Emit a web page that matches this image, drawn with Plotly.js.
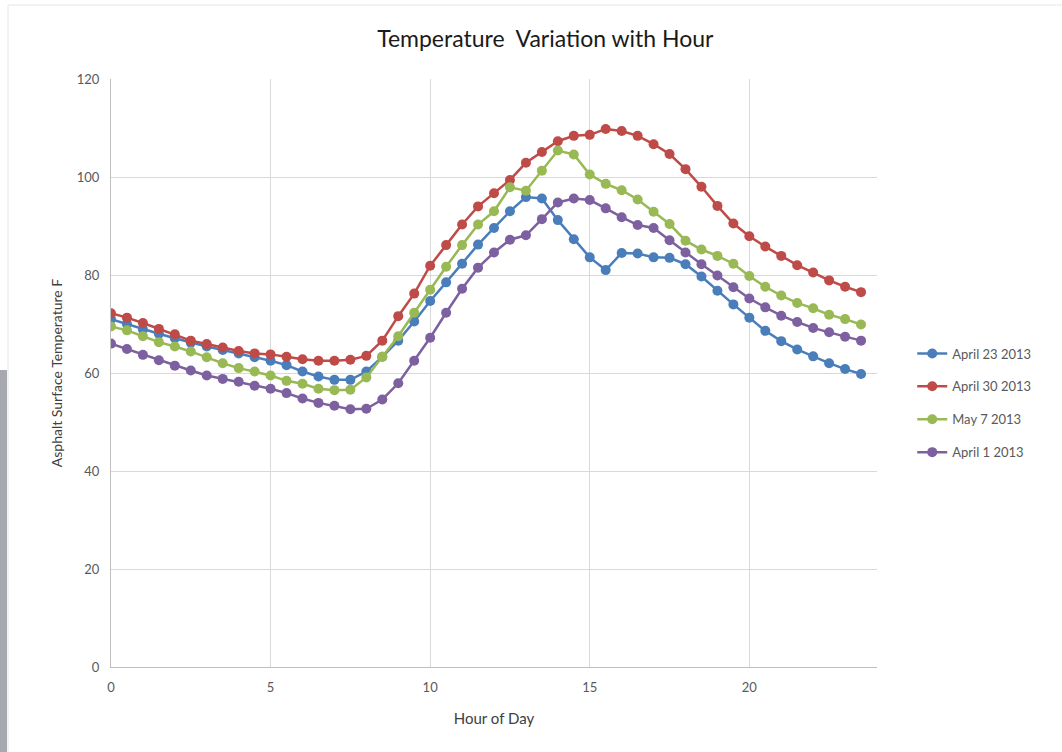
<!DOCTYPE html>
<html>
<head>
<meta charset="utf-8">
<script src="https://cdn.plot.ly/plotly-3.0.1.min.js"></script>
<style>
html,body{margin:0;padding:0;background:#fff;}
#chart{width:1062px;height:752px;}
</style>
</head>
<body>
<div id="chart"></div>
<script>
const hours = [0,0.5,1,1.5,2,2.5,3,3.5,4,4.5,5,5.5,6,6.5,7,7.5,8,8.5,9,9.5,10,10.5,11,11.5,12,12.5,13,13.5,14,14.5,15,15.5,16,16.5,17,17.5,18,18.5,19,19.5,20,20.5,21,21.5,22,22.5,23,23.5];

const april23 = [71.0,70.0,68.9,68.0,67.1,66.2,65.4,64.7,64.0,63.2,62.5,61.6,60.3,59.3,58.6,58.6,60.3,63.3,66.6,70.5,74.7,78.5,82.3,86.2,89.6,93.0,95.9,95.6,91.2,87.3,83.6,81.0,84.5,84.4,83.6,83.5,82.2,79.7,76.8,74.0,71.3,68.6,66.5,64.8,63.4,62.0,60.8,59.8];

const april30 = [72.2,71.3,70.2,69.0,67.9,66.6,65.9,65.2,64.5,64.0,63.8,63.3,62.8,62.5,62.5,62.7,63.5,66.6,71.6,76.2,81.9,86.1,90.3,94.0,96.7,99.4,102.9,105.1,107.3,108.4,108.6,109.8,109.4,108.4,106.7,104.7,101.6,98.0,94.1,90.5,87.9,85.8,83.9,82.0,80.5,78.9,77.6,76.5];

const may7 = [69.5,68.7,67.5,66.3,65.4,64.4,63.2,62.0,61.0,60.3,59.5,58.4,57.8,56.8,56.5,56.6,59.1,63.3,67.5,72.3,77.0,81.7,86.1,90.3,93.0,97.9,97.2,101.3,105.4,104.6,100.5,98.6,97.3,95.4,92.9,90.4,87.0,85.2,83.9,82.3,79.8,77.6,75.8,74.3,73.2,71.9,71.0,69.9];

const april1 = [66.0,64.9,63.7,62.6,61.5,60.5,59.5,58.8,58.2,57.4,56.8,55.9,54.8,53.9,53.3,52.6,52.7,54.6,57.9,62.5,67.2,72.3,77.2,81.5,84.6,87.2,88.1,91.4,94.8,95.6,95.3,93.6,91.8,90.2,89.6,87.1,84.6,82.2,79.9,77.5,75.2,73.4,71.7,70.4,69.2,68.3,67.4,66.6];

const seriesNames = ["April 23 2013","April 30 2013","May 7 2013","April 1 2013"];
const seriesData = [april23, april30, may7, april1];
const seriesColors = ["#4A7EBB","#BE4B48","#98B954","#7D60A0"];

const xTicks = [0,5,10,15,20];
const yTicks = [0,20,40,60,80,100,120];

const traces = seriesData.map((d,i)=>({
  x: hours, y: d, name: seriesNames[i], type:'scatter', mode:'lines+markers',
  legendgroup: 'g'+i,
  line:{color:seriesColors[i], width:2.5},
  marker:{color:seriesColors[i], size:10}
}));

const font = "Lato, 'Open Sans', sans-serif";
const layout = {
  width:1062, height:752,
  paper_bgcolor:'#fff', plot_bgcolor:'#fff',
  margin:{l:111, r:185, t:79, b:85},
  font:{family:font, color:'#595959', size:12},
  title:{text:'Temperature  Variation with Hour', font:{family:font, size:23, color:'#1a1a1a'},
         xref:'paper', x:0.567, xanchor:'center', yref:'container', y:0.948, yanchor:'middle'},
  xaxis:{range:[0,24], tickvals:xTicks, ticktext:xTicks.map(String), showgrid:true, gridcolor:'#d9d9d9', gridwidth:1,
         zeroline:false, showline:true, linecolor:'#bfbfbf', linewidth:1, ticks:'', ticklabelstandoff:8,
         tickfont:{size:13, color:'#595959'},
         title:{text:'Hour of Day', font:{size:15, color:'#404040'}, standoff:19}},
  yaxis:{range:[0,120], tickvals:yTicks, ticktext:yTicks.map(String), showgrid:true, gridcolor:'#d9d9d9', gridwidth:1,
         zeroline:false, showline:true, linecolor:'#bfbfbf', linewidth:1, ticks:'', ticklabelstandoff:8,
         tickfont:{size:13, color:'#595959'},
         title:{text:'Asphalt Surface Temperature F', font:{size:14, color:'#404040'}, standoff:10}},
  showlegend:true,
  legend:{x:1.046, xanchor:'left', y:0.449, yanchor:'middle', font:{size:13, color:'#595959', family:font},
          tracegroupgap:13, traceorder:'grouped', bgcolor:'rgba(0,0,0,0)'},
  shapes:[
    {type:'rect', xref:'paper', yref:'paper', x0:-111/766, x1:-104/766, y0:(667-752)/588, y1:(667-370)/588,
     fillcolor:'#a8a8b0', line:{width:0}, layer:'below'},
    {type:'line', xref:'paper', yref:'paper', x0:-103/766, x1:(1062-111)/766, y0:(667-5)/588, y1:(667-5)/588,
     line:{color:'#e6e6e6', width:1}, layer:'below'},
    {type:'line', xref:'paper', yref:'paper', x0:-103/766, x1:-103/766, y0:(667-752)/588, y1:(667-5)/588,
     line:{color:'#e6e6e6', width:1}, layer:'below'}
  ]
};

Plotly.newPlot('chart', traces, layout, {displayModeBar:false, staticPlot:true});
</script>
</body>
</html>
